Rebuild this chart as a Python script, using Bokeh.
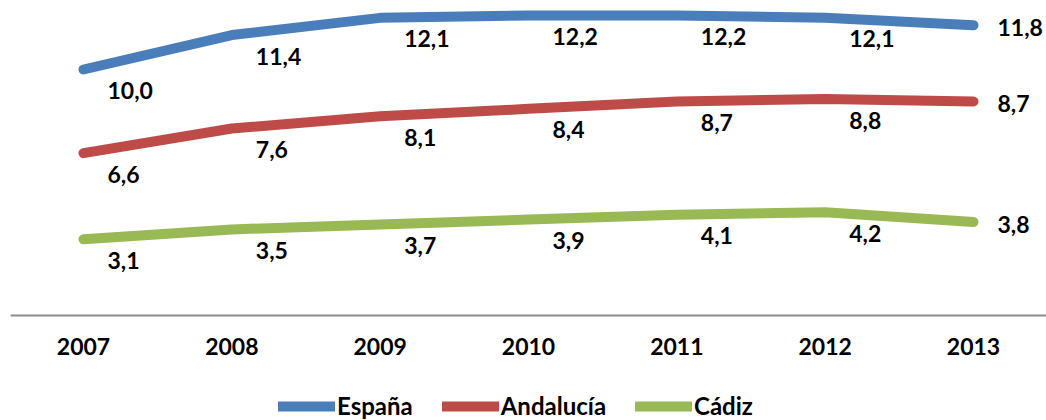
from bokeh.plotting import figure
from bokeh.models import Range1d, FixedTicker, Legend, LegendItem, ColumnDataSource
from bokeh.core.properties import value
from bokeh.embed import file_html
from bokeh.resources import INLINE

years = ["2007", "2008", "2009", "2010", "2011", "2012", "2013"]
espana = [10.0, 11.4, 12.1, 12.2, 12.2, 12.1, 11.8]
andalucia = [6.6, 7.6, 8.1, 8.4, 8.7, 8.8, 8.7]
cadiz = [3.1, 3.5, 3.7, 3.9, 4.1, 4.2, 3.8]

series = [("España", espana, "#4A7EBB"),
          ("Andalucía", andalucia, "#BE4B48"),
          ("Cádiz", cadiz, "#98B954")]

FONT = "Lato"
FS = "23px"

p = figure(width=1046, height=420,
           x_range=Range1d(-0.492, 6.492), y_range=Range1d(-4.268, 12.805),
           output_backend="svg", toolbar_location=None,
           min_border=0, min_border_left=10, min_border_right=0,
           min_border_top=0, min_border_bottom=0)
p.outline_line_color = None
p.background_fill_color = "white"
p.border_fill_color = "white"
p.grid.visible = False
p.yaxis.visible = False

xa = p.xaxis[0]
xa.fixed_location = 0
xa.ticker = FixedTicker(ticks=list(range(len(years))))
xa.major_label_overrides = {i: y for i, y in enumerate(years)}
xa.major_tick_in = 0
xa.major_tick_out = 0
xa.minor_tick_in = 0
xa.minor_tick_out = 0
xa.axis_line_color = "#8C8C8C"
xa.axis_line_width = 2
xa.major_label_standoff = 22
xa.major_label_text_font = FONT
xa.major_label_text_font_style = "bold"
xa.major_label_text_font_size = FS
xa.major_label_text_color = "black"

items = []
n = len(years)
for name, vals, color in series:
    xs = list(range(n))
    labels = [f"{v:.1f}".replace(".", ",") for v in vals]
    src = ColumnDataSource(dict(x=xs, y=vals, lab=labels))
    r = p.line("x", "y", source=src, line_color=color, line_width=10,
               line_cap="round", line_join="round")
    items.append(LegendItem(label=name, renderers=[r]))
    src_a = ColumnDataSource(dict(x=xs[:-1], y=vals[:-1], lab=labels[:-1]))
    src_b = ColumnDataSource(dict(x=xs[-1:], y=vals[-1:], lab=labels[-1:]))
    for s, yo in ((src_a, 21), (src_b, 2)):
        p.text("x", "y", text="lab", source=s, x_offset=24, y_offset=yo,
               text_align="left", text_baseline="middle",
               text_font=value(FONT), text_font_style="bold",
               text_font_size=FS, text_color="black")

legend = Legend(items=items, orientation="horizontal", location=(268, 0),
                margin=0, padding=0, spacing=29, glyph_width=57, glyph_height=20,
                label_standoff=2, label_height=20,
                label_text_font=FONT, label_text_font_style="bold",
                label_text_font_size="24px", label_text_color="black",
                border_line_color=None, background_fill_alpha=0)
p.add_layout(legend)

open("out.html", "w").write(file_html(p, INLINE))
